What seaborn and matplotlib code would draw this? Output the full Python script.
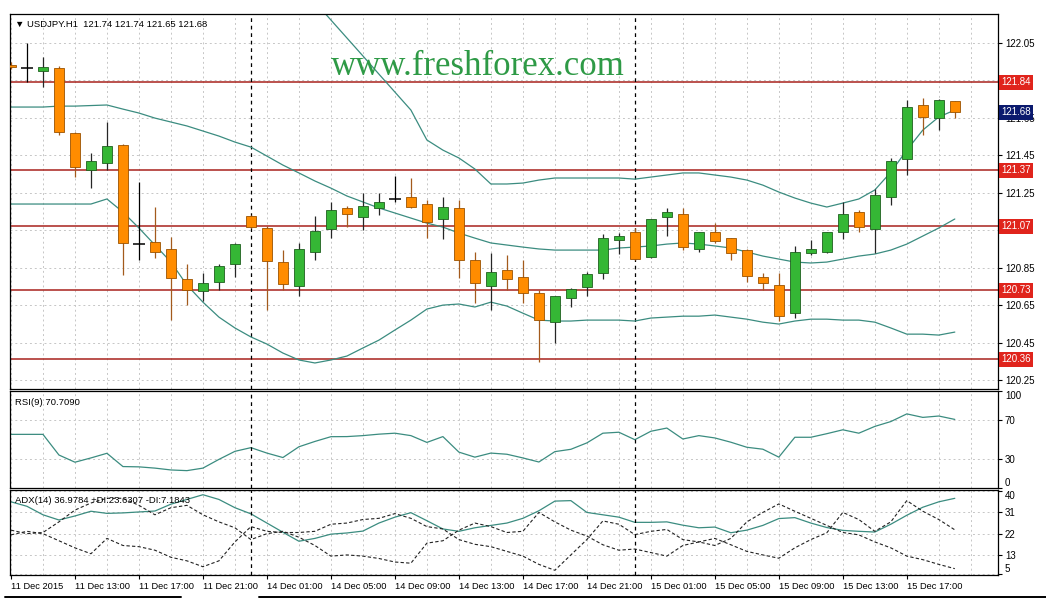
import numpy as np
import pandas as pd
import matplotlib
matplotlib.use("Agg")
import matplotlib.pyplot as plt
import matplotlib.transforms as mtransforms
from matplotlib.lines import Line2D
import seaborn as sns

# ---- USDJPY H1 candles, 11 Dec 09:00 .. 15 Dec 20:00 ----
opens = [121.93, 121.915, 121.90, 121.915, 121.569, 121.372, 121.409, 121.505, 120.976, 120.987,
         120.95, 120.789, 120.725, 120.773, 120.87, 121.126, 121.062, 120.88, 120.752, 120.934,
         121.056, 121.169, 121.12, 121.169, 121.217, 121.227, 121.19, 121.11, 121.169, 120.89,
         120.752, 120.837, 120.80, 120.715, 120.56, 120.688, 120.747, 120.821, 120.998, 121.04,
         120.907, 121.12, 121.137, 120.95, 121.04, 121.008, 120.944, 120.80, 120.757, 120.608,
         120.928, 120.934, 121.04, 121.147, 121.056, 121.227, 121.43, 121.719, 121.65, 121.74]
highs = [121.95, 122.05, 121.975, 121.925, 121.575, 121.462, 121.628, 121.51, 121.307, 121.174,
         121.014, 120.87, 120.821, 120.87, 120.98, 121.13, 121.07, 120.944, 120.98, 121.126,
         121.20, 121.18, 121.249, 121.249, 121.34, 121.329, 121.211, 121.227, 121.211, 120.934,
         120.928, 120.917, 120.89, 120.73, 120.70, 120.74, 120.827, 121.03, 121.035, 121.062,
         121.11, 121.169, 121.169, 121.04, 121.088, 121.01, 120.95, 120.821, 120.821, 120.966,
         120.998, 121.04, 121.20, 121.158, 121.27, 121.436, 121.745, 121.756, 121.75, 121.74]
lows = [121.91, 121.84, 121.815, 121.56, 121.334, 121.275, 121.372, 120.81, 120.891, 120.902,
        120.57, 120.65, 120.672, 120.73, 120.80, 121.06, 120.624, 120.73, 120.70, 120.89,
        121.008, 121.067, 121.05, 121.131, 121.20, 121.17, 121.008, 121.003, 120.795, 120.661,
        120.624, 120.73, 120.661, 120.346, 120.447, 120.64, 120.70, 120.79, 120.923, 120.89,
        120.90, 121.019, 120.944, 120.934, 120.982, 120.89, 120.773, 120.73, 120.565, 120.581,
        120.917, 120.928, 121.003, 121.04, 120.928, 121.185, 121.345, 121.559, 121.585, 121.65]
closes = [121.92, 121.915, 121.92, 121.575, 121.388, 121.42, 121.50, 120.982, 120.976, 120.934,
          120.795, 120.73, 120.768, 120.859, 120.976, 121.067, 120.885, 120.763, 120.95, 121.046,
          121.158, 121.137, 121.179, 121.20, 121.217, 121.174, 121.094, 121.174, 120.89, 120.768,
          120.827, 120.789, 120.715, 120.57, 120.699, 120.736, 120.816, 121.008, 121.019, 120.896,
          121.11, 121.147, 120.96, 121.04, 120.992, 120.928, 120.805, 120.768, 120.592, 120.934,
          120.95, 121.04, 121.137, 121.067, 121.238, 121.42, 121.708, 121.655, 121.745, 121.68]

# Bollinger bands (upper is off the chart at the start)
bb_upper = [np.nan] * 18 + [
    122.365, 122.269, 122.173, 122.077, 121.981, 121.884, 121.788, 121.692, 121.532, 121.478,
    121.436, 121.377, 121.297, 121.297, 121.302, 121.318, 121.329, 121.329, 121.329, 121.329,
    121.329, 121.323, 121.334, 121.345, 121.356, 121.356, 121.345, 121.334, 121.318, 121.291,
    121.254, 121.222, 121.195, 121.174, 121.195, 121.217, 121.265, 121.36, 121.478, 121.585,
    121.655, 121.692]
bb_mid = [121.708, 121.708, 121.708, 121.713, 121.713, 121.716, 121.719, 121.697, 121.676, 121.649,
          121.628, 121.607, 121.580, 121.553, 121.521, 121.494, 121.446, 121.398, 121.356, 121.313,
          121.275, 121.233, 121.201, 121.169, 121.142, 121.115, 121.088, 121.067, 121.035, 121.008,
          120.982, 120.971, 120.960, 120.950, 120.944, 120.944, 120.944, 120.944, 120.955, 120.960,
          120.966, 120.976, 120.982, 120.976, 120.966, 120.955, 120.934, 120.912, 120.896, 120.880,
          120.875, 120.880, 120.896, 120.912, 120.923, 120.944, 120.976, 121.019, 121.062, 121.110]
bb_lower = [121.190, 121.190, 121.190, 121.190, 121.190, 121.190, 121.217, 121.147, 121.062, 120.971,
            120.880, 120.757, 120.666, 120.586, 120.528, 120.480, 120.442, 120.394, 120.357, 120.341,
            120.357, 120.378, 120.421, 120.463, 120.517, 120.570, 120.629, 120.650, 120.656, 120.640,
            120.666, 120.645, 120.607, 120.570, 120.565, 120.565, 120.570, 120.570, 120.570, 120.565,
            120.581, 120.586, 120.591, 120.591, 120.597, 120.586, 120.575, 120.559, 120.549, 120.565,
            120.575, 120.575, 120.570, 120.570, 120.559, 120.528, 120.495, 120.495, 120.490, 120.506]

rsi = [55.3, 55.3, 55.3, 34, 26.6, 31, 35.8, 22.1, 21.8, 20.5,
       18.6, 17.9, 20.5, 29.5, 37.8, 41.6, 36, 31.4, 42.5, 48,
       52.9, 53, 54, 55.5, 56.5, 54, 47, 53, 37, 31.8,
       36, 34.8, 31, 26.8, 37.5, 39.9, 46.5, 56.5, 57.5, 49.8,
       58.5, 61.8, 50.5, 54, 51.6, 47.2, 42, 40, 31.8, 52.3,
       52.3, 56, 60, 56.5, 63.5, 68.5, 76.4, 72.8, 74.2, 70.709]

adx = [35.5, 33.6, 30, 27.8, 29.5, 31.5, 30.6, 30.8, 31.2, 31.6,
       34.5, 36.5, 38.5, 36.5, 33, 30.4, 26.5, 22.6, 18.8, 20,
       21.8, 22.3, 23.1, 26.5, 29, 30.9, 27.5, 24, 23, 24.5,
       25.5, 26.5, 28.5, 31.7, 35.8, 36, 31, 30, 29, 26.8,
       26.8, 27, 25.6, 24.5, 24.8, 22.4, 23.5, 25.5, 28.4, 28.8,
       26.5, 24.6, 23.4, 23, 22.7, 26, 29.8, 33.2, 35.5, 36.978]
plus_di = [21.5, 23, 22, 19, 16, 13.5, 20, 17, 16.5, 15,
           12, 10.5, 8, 10.5, 18.5, 25, 23, 22.5, 22.5, 23,
           26, 26.5, 28, 28.5, 30.5, 28.5, 25, 24, 19.5, 17.5,
           16.5, 14.5, 12.5, 9, 6.5, 13, 19.5, 27.4, 26, 21.6,
           23, 23.8, 19.5, 18.5, 20, 17.3, 14.5, 13, 11.6, 16,
           19.5, 22.4, 31, 28, 23, 27, 36, 31.5, 28, 23.631]
minus_di = [23.5, 22, 22.5, 27, 32, 35, 37, 37, 34, 30,
            33, 34, 30, 27, 24.5, 19.5, 22, 23, 20.5, 17,
            12.5, 13, 12.5, 11.5, 10, 9.5, 18, 19, 23.5, 26.5,
            25, 22.5, 23, 31, 27, 23.5, 21, 17.3, 15, 15.5,
            14, 12.5, 17, 18.5, 17, 20, 27, 31, 34.6, 31.5,
            28.5, 25.5, 22.5, 21.5, 18.5, 16, 12.5, 11, 9, 7.184]

levels = [121.84, 121.37, 121.07, 120.73, 120.36]
last_price = 121.68
day_breaks = [15, 39]
tick_bars = [0, 4, 8, 12, 16, 20, 24, 28, 32, 36, 40, 44, 48, 52, 56]
tick_labels = ["11 Dec 2015", "11 Dec 13:00", "11 Dec 17:00", "11 Dec 21:00",
               "14 Dec 01:00", "14 Dec 05:00", "14 Dec 09:00", "14 Dec 13:00",
               "14 Dec 17:00", "14 Dec 21:00", "15 Dec 01:00", "15 Dec 05:00",
               "15 Dec 09:00", "15 Dec 13:00", "15 Dec 17:00"]
price_ticks = [122.05, 121.85, 121.65, 121.45, 121.25, 121.05, 120.85, 120.65, 120.45, 120.25]
rsi_ticks = [100, 70, 30, 0]
adx_ticks = [40, 31, 22, 13, 5]

# ---- style ----
sns.set_theme(style="white")
plt.rcParams["font.family"] = ["Liberation Sans", "DejaVu Sans"]
teal = "#3b8c80"
green, green_edge = "#35b735", "#1f5f1f"
orange, orange_edge = "#ff8c00", "#9a5200"
grid_kw = dict(color="#c6c6c6", lw=0.7, ls=(0, (2, 3)))
fs = 7.0

bars = pd.DataFrame({"open": opens, "high": highs, "low": lows, "close": closes})
bars["bar"] = np.arange(len(bars))
up = bars["close"] > bars["open"] + 0.002
down = bars["close"] < bars["open"] - 0.002
doji = ~(up | down)

W, H = 1046, 607


def box(l, t, r, b):
    return [l / W, 1 - b / H, (r - l) / W, (b - t) / H]


fig = plt.figure(figsize=(W / 100, H / 100), dpi=100)
ax = fig.add_axes(box(10, 14, 998, 389))
ax_rsi = fig.add_axes(box(10, 391, 998, 488), sharex=ax)
ax_adx = fig.add_axes(box(10, 490, 998, 575), sharex=ax)

# ---- main price panel ----
wick_cols = np.where(up, "#262626", np.where(down, "#a35a1c", "black"))
ax.vlines(bars["bar"], bars["low"], bars["high"], colors=wick_cols, lw=0.9, zorder=3)
ax.bar(bars["bar"][up], (bars["close"] - bars["open"])[up], bottom=bars["open"][up],
       width=0.62, color=green, edgecolor=green_edge, lw=0.6, zorder=4)
ax.bar(bars["bar"][down], (bars["open"] - bars["close"])[down], bottom=bars["close"][down],
       width=0.62, color=orange, edgecolor=orange_edge, lw=0.6, zorder=4)
ax.hlines(bars["open"][doji], bars["bar"][doji] - 0.36, bars["bar"][doji] + 0.36,
          colors="black", lw=1.1, zorder=4)

for band in (bb_upper, bb_mid, bb_lower):
    sns.lineplot(x=bars["bar"], y=band, ax=ax, color=teal, lw=0.9, zorder=2.5)

for lvl in levels:
    ax.axhline(lvl, color="#a8221c", lw=1.1, zorder=2)

ax.set_ylim(120.202, 122.205)
ax.set_yticks(price_ticks)
# scale labels hidden under a level box are left blank, as in the terminal
ax.set_yticklabels(["" if min(abs(p - l) for l in levels) < 0.025 else f"{p:.2f}"
                    for p in price_ticks])

lab_trans = mtransforms.offset_copy(ax.get_yaxis_transform(), fig=fig, x=3, y=0, units="dots")
for lvl in levels:
    ax.text(1.0, lvl, f"{lvl:.2f}", transform=lab_trans, ha="left", va="center",
            fontsize=fs, color="white", zorder=6, clip_on=False,
            bbox=dict(boxstyle="square,pad=0.25", fc="#e0241c", ec="none"))
ax.text(1.0, last_price, f"{last_price:.2f}", transform=lab_trans, ha="left", va="center",
        fontsize=fs, color="white", zorder=6, clip_on=False,
        bbox=dict(boxstyle="square,pad=0.25", fc="#0b1a6e", ec="none"))

ax.text(0.005, 0.985, "\u25bc USDJPY.H1  121.74 121.74 121.65 121.68", transform=ax.transAxes,
        ha="left", va="top", fontsize=6.8, color="black", zorder=6)
ax.text(0.4735, 0.86, "www.freshforex.com", transform=ax.transAxes, ha="center", va="center",
        fontsize=25, color="#2e9a46", zorder=6, family=["Liberation Serif", "DejaVu Serif"])

# ---- RSI panel ----
sns.lineplot(x=bars["bar"], y=rsi, ax=ax_rsi, color=teal, lw=0.9)
ax_rsi.set_ylim(0, 100)
ax_rsi.set_yticks(rsi_ticks)
ax_rsi.text(0.005, 0.93, "RSI(9) 70.7090", transform=ax_rsi.transAxes, ha="left", va="top",
            fontsize=6.8, color="black")

# ---- ADX panel ----
sns.lineplot(x=bars["bar"], y=adx, ax=ax_adx, color=teal, lw=0.9)
sns.lineplot(x=bars["bar"], y=plus_di, ax=ax_adx, color="#222222", lw=0.8, ls=(0, (3, 2)))
sns.lineplot(x=bars["bar"], y=minus_di, ax=ax_adx, color="#222222", lw=0.8, ls=(0, (3, 2)))
ax_adx.set_ylim(4.5, 40.5)
ax_adx.set_yticks(adx_ticks)
ax_adx.text(0.005, 0.93, "ADX(14) 36.9784 +DI:23.6307 -DI:7.1843", transform=ax_adx.transAxes,
            ha="left", va="top", fontsize=6.8, color="black")

# ---- shared axis styling ----
ax_adx.set_xlim(-0.06, 61.7)
ax_adx.set_xticks(tick_bars)
ax_adx.set_xticks(np.arange(0, 62, 2), minor=True)
ax_adx.set_xticklabels(tick_labels, ha="left")

for a in (ax, ax_rsi, ax_adx):
    a.set_xlabel("")
    a.set_ylabel("")
    a.set_facecolor("white")
    a.yaxis.tick_right()
    a.tick_params(axis="y", which="major", labelsize=fs, length=3, width=0.8, pad=2,
                  direction="out", colors="black", left=False, right=True)
    a.tick_params(axis="x", which="minor", length=0)
    a.grid(True, axis="x", which="both", **grid_kw)
    a.grid(True, axis="y", which="major", **grid_kw)
    a.set_axisbelow(True)
    for s in a.spines.values():
        s.set_color("black")
        s.set_linewidth(0.9)
    for b in day_breaks:
        a.axvline(b, color="black", lw=0.9, ls=(0, (3, 3)), zorder=2)

for a in (ax, ax_rsi):
    a.tick_params(axis="x", which="both", length=0, labelbottom=False)
ax_adx.tick_params(axis="x", which="major", labelsize=6.7, length=3, width=0.8, pad=2,
                   direction="out", colors="black", bottom=True)

# edge labels sit inside the panel like the terminal does
for a in (ax_rsi, ax_adx):
    labs = a.get_yticklabels()
    labs[0].set_va("top")
    labs[-1].set_va("bottom")

# terminal window edges below the chart
fig.add_artist(Line2D([5 / W, 181 / W], [1 - 597 / H] * 2, color="black", lw=1.4))
fig.add_artist(Line2D([259 / W, 1.0], [1 - 597 / H] * 2, color="black", lw=1.4))

fig.savefig("out.png", dpi=100, facecolor="white")
